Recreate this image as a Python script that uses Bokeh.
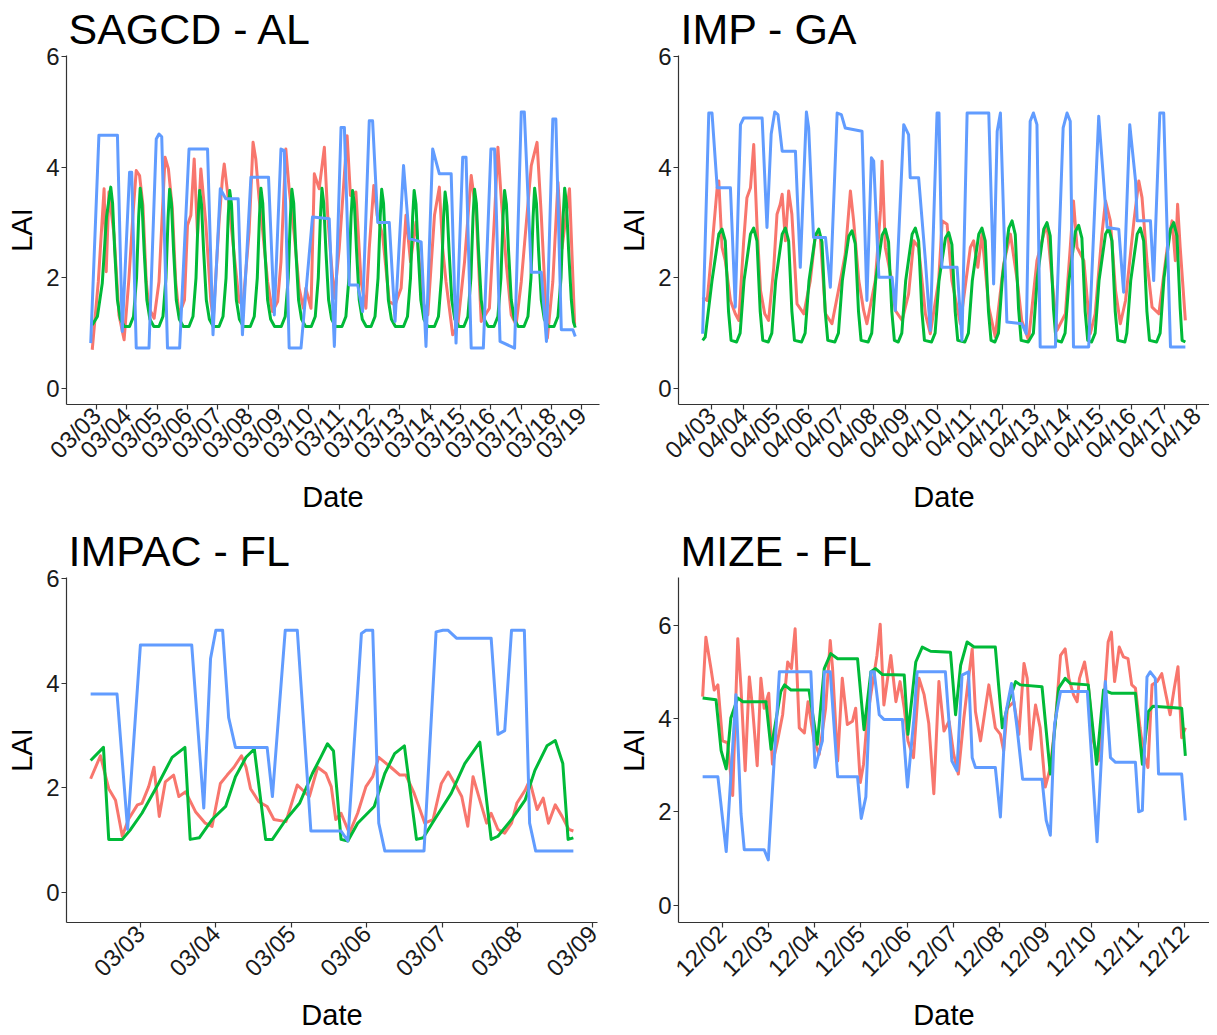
import math
from bokeh.plotting import figure
from bokeh.layouts import gridplot
from bokeh.models import Range1d, FixedTicker
from bokeh.embed import file_html
from bokeh.resources import INLINE

RED = "#F8766D"
GREEN = "#00BA38"
BLUE = "#619CFF"
FONT = "Liberation Sans"

# ---------------- SAGCD - AL ----------------
sagcd_labels = ["03/03", "03/04", "03/05", "03/06", "03/07", "03/08", "03/09", "03/10", "03/11",
                "03/12", "03/13", "03/14", "03/15", "03/16", "03/17", "03/18", "03/19"]
# (years since first tick, LAI)
sagcd_red = [(-0.14,0.7),(0.06,1.93),(0.25,3.61),(0.32,2.11),(0.41,3.55),(0.58,2.77),(0.74,1.33),(0.91,0.88),
             (1.07,1.99),(1.2,3.13),(1.31,3.94),(1.42,3.85),(1.53,3.31),(1.64,1.93),(1.73,1.45),(1.9,1.27),
             (2.06,1.93),(2.26,4.18),(2.37,3.97),(2.5,3.25),(2.61,1.93),(2.72,1.33),(2.9,1.6),(3.0,2.95),
             (3.11,3.13),(3.22,4.15),(3.33,2.77),(3.44,3.97),(3.6,3.01),(3.77,1.57),(3.85,1.27),(4.04,3.01),
             (4.15,3.79),(4.21,4.06),(4.37,3.31),(4.54,2.41),(4.7,1.57),(4.83,1.51),(5.03,2.83),(5.16,4.45),
             (5.25,4.15),(5.36,3.43),(5.47,2.89),(5.64,1.93),(5.8,1.39),(5.97,1.57),(6.08,2.29),(6.24,4.33),
             (6.35,3.61),(6.52,2.77),(6.68,1.81),(6.82,1.45),(6.9,1.81),(7.07,1.45),(7.18,3.88),(7.34,3.61),
             (7.51,4.36),(7.62,3.13),(7.72,2.4),(7.84,1.63),(8.0,2.53),(8.26,4.57),(8.37,3.49),(8.55,3.55),
             (8.72,1.93),(8.88,1.45),(8.99,2.53),(9.14,3.67),(9.25,3.13),(9.43,2.77),(9.65,1.57),(9.84,1.51),
             (10.04,1.81),(10.2,3.13),(10.35,2.29),(10.53,3.01),(10.75,1.57),(10.92,1.33),(11.14,3.13),
             (11.3,3.64),(11.41,2.53),(11.52,1.93),(11.74,0.97),(11.91,1.15),(12.13,2.29),(12.35,3.85),
             (12.52,3.13),(12.68,1.21),(12.95,1.45),(13.12,3.13),(13.23,4.36),(13.34,3.43),(13.5,2.29),
             (13.67,1.33),(13.83,1.15),(14.0,1.93),(14.33,4.03),(14.52,4.45),(14.66,3.13),(14.86,0.91),
             (15.04,1.93),(15.21,3.73),(15.34,2.53),(15.48,3.13),(15.59,3.61),(15.76,1.15)]
sagcd_green = [(-0.14,1.15),(0.03,1.3),(0.19,1.9),(0.33,3.1),(0.47,3.64),(0.53,3.35),(0.6,2.5),(0.69,1.6),(0.79,1.25),(0.92,1.12),
               (1.09,1.12),(1.22,1.3),(1.32,2.0),(1.39,3.1),(1.44,3.62),(1.5,3.35),(1.57,2.5),(1.66,1.6),(1.76,1.25),(1.89,1.12),
               (2.06,1.12),(2.19,1.3),(2.29,2.0),(2.36,3.1),(2.41,3.6),(2.47,3.35),(2.54,2.5),(2.63,1.6),(2.73,1.25),(2.86,1.12),
               (3.05,1.12),(3.18,1.3),(3.28,2.0),(3.35,3.1),(3.4,3.58),(3.46,3.33),(3.53,2.5),(3.62,1.6),(3.72,1.25),(3.85,1.12),
               (4.04,1.12),(4.17,1.3),(4.27,2.0),(4.34,3.1),(4.39,3.58),(4.45,3.33),(4.52,2.5),(4.61,1.6),(4.71,1.25),(4.84,1.12),
               (5.07,1.12),(5.2,1.3),(5.3,2.0),(5.37,3.1),(5.42,3.62),(5.48,3.35),(5.55,2.5),(5.64,1.6),(5.74,1.25),(5.87,1.12),
               (6.09,1.12),(6.22,1.3),(6.32,2.0),(6.39,3.1),(6.44,3.6),(6.5,3.35),(6.57,2.5),(6.66,1.6),(6.76,1.25),(6.89,1.12),
               (7.08,1.12),(7.21,1.3),(7.31,2.0),(7.38,3.1),(7.43,3.62),(7.49,3.35),(7.56,2.5),(7.65,1.6),(7.75,1.25),(7.88,1.12),
               (8.09,1.12),(8.22,1.3),(8.32,2.0),(8.39,3.1),(8.44,3.58),(8.5,3.33),(8.57,2.5),(8.66,1.6),(8.76,1.25),(8.89,1.12),
               (9.05,1.12),(9.18,1.3),(9.28,2.0),(9.35,3.1),(9.4,3.6),(9.46,3.35),(9.53,2.5),(9.62,1.6),(9.72,1.25),(9.85,1.12),
               (10.12,1.12),(10.25,1.3),(10.35,2.0),(10.42,3.1),(10.47,3.58),(10.53,3.33),(10.6,2.5),(10.69,1.6),(10.79,1.25),(10.92,1.12),
               (11.14,1.12),(11.27,1.3),(11.37,2.0),(11.44,3.1),(11.49,3.55),(11.55,3.3),(11.62,2.5),(11.71,1.6),(11.81,1.25),(11.94,1.12),
               (12.11,1.12),(12.24,1.3),(12.34,2.0),(12.41,3.1),(12.46,3.6),(12.52,3.35),(12.59,2.5),(12.68,1.6),(12.78,1.25),(12.91,1.12),
               (13.1,1.12),(13.23,1.3),(13.33,2.0),(13.4,3.1),(13.45,3.58),(13.51,3.33),(13.58,2.5),(13.67,1.6),(13.77,1.25),(13.9,1.12),
               (14.09,1.12),(14.22,1.3),(14.32,2.0),(14.39,3.1),(14.44,3.62),(14.5,3.35),(14.57,2.5),(14.66,1.6),(14.76,1.25),(14.89,1.12),
               (15.08,1.12),(15.21,1.3),(15.31,2.0),(15.38,3.1),(15.43,3.62),(15.49,3.35),(15.56,2.5),(15.65,1.6),(15.72,1.2),(15.78,1.1)]
sagcd_blue = [(-0.19,0.82),(0.08,4.58),(0.69,4.58),(0.85,1.03),(1.09,3.91),(1.16,3.91),(1.31,0.73),(1.73,0.73),
              (1.97,4.51),(2.06,4.6),(2.15,4.55),(2.34,0.73),(2.74,0.73),(3.05,4.33),(3.66,4.33),(3.84,0.97),
              (4.08,3.61),(4.26,3.43),(4.67,3.43),(4.81,0.97),(5.09,3.82),(5.67,3.82),(5.86,1.33),(6.08,4.33),
              (6.19,4.3),(6.35,0.73),(6.74,0.73),(7.12,3.1),(7.67,3.07),(7.84,0.76),(8.06,4.72),(8.17,4.72),
              (8.33,1.87),(8.61,1.87),(8.77,1.39),(8.99,4.84),(9.1,4.84),(9.27,3.0),(9.65,3.0),(9.84,1.21),
              (10.12,4.03),(10.31,2.71),(10.7,2.65),(10.86,0.76),(11.08,4.33),(11.3,3.88),(11.69,3.88),(11.85,0.82),
              (12.07,4.18),(12.18,4.18),(12.35,0.73),(12.75,0.73),(13.0,4.33),(13.12,4.33),(13.3,0.85),(13.78,0.73),
              (14.0,5.0),(14.1,5.0),(14.33,2.1),(14.66,2.1),(14.83,0.85),(15.04,4.87),(15.14,4.87),(15.32,1.06),
              (15.7,1.06),(15.78,0.94)]

# ---------------- IMP - GA ----------------
imp_labels = ["04/03", "04/04", "04/05", "04/06", "04/07", "04/08", "04/09", "04/10",
              "04/11", "04/12", "04/13", "04/14", "04/15", "04/16", "04/17", "04/18"]
imp_red = [(-0.27,1.65),(-0.13,1.59),(0.02,2.55),(0.18,3.63),(0.23,3.75),(0.33,2.55),(0.43,2.31),(0.59,1.59),
           (0.74,1.35),(0.85,1.23),(1.0,2.67),(1.1,3.45),(1.21,3.63),(1.31,4.41),(1.41,2.97),(1.52,1.77),
           (1.65,1.35),(1.77,1.23),(1.93,2.19),(2.03,3.15),(2.13,3.33),(2.19,3.51),(2.29,2.67),(2.39,3.57),
           (2.49,3.15),(2.65,1.53),(2.86,1.35),(3.06,1.95),(3.22,2.79),(3.37,2.73),(3.53,1.35),(3.73,1.17),
           (3.99,1.95),(4.14,2.43),(4.3,3.57),(4.4,3.03),(4.56,1.95),(4.71,1.41),(4.81,1.17),(5.07,1.95),
           (5.23,3.21),(5.28,4.11),(5.38,2.55),(5.54,2.07),(5.69,1.41),(5.9,1.23),(6.1,1.71),(6.26,2.67),
           (6.41,2.55),(6.62,1.35),(6.77,0.99),(7.03,1.95),(7.14,3.03),(7.29,2.97),(7.44,1.95),(7.7,1.17),
           (8.01,2.55),(8.11,2.67),(8.24,2.19),(8.37,2.79),(8.58,1.47),(8.78,0.93),(9.04,2.25),(9.25,2.79),
           (9.46,1.95),(9.6,1.23),(9.81,0.87),(10.07,2.31),(10.28,2.79),(10.38,2.97),(10.54,1.95),(10.69,1.05),
           (10.95,1.35),(11.1,2.55),(11.2,3.39),(11.31,2.55),(11.52,2.31),(11.72,0.99),(11.87,1.35),(12.08,2.79),
           (12.19,3.39),(12.34,3.03),(12.5,1.77),(12.65,1.17),(12.81,1.59),(13.07,3.03),(13.22,3.75),(13.32,3.45),
           (13.48,2.25),(13.63,1.47),(13.84,1.35),(14.1,2.55),(14.25,3.03),(14.35,2.31),(14.42,3.33),(14.5,2.55),
           (14.66,1.23)]
imp_green = [(-0.27,0.87),(-0.19,0.93),(0.02,1.95),(0.23,2.79),(0.33,2.88),(0.43,2.67),(0.53,1.4),(0.61,0.87),(0.78,0.84),
             (0.89,1.0),(1.01,1.95),(1.21,2.79),(1.31,2.9),(1.41,2.67),(1.51,1.4),(1.59,0.87),(1.76,0.84),
             (1.87,1.0),(1.99,1.95),(2.19,2.79),(2.29,2.9),(2.39,2.67),(2.49,1.4),(2.57,0.87),(2.79,0.84),
             (2.9,1.0),(3.02,1.95),(3.22,2.77),(3.32,2.88),(3.42,2.65),(3.52,1.4),(3.6,0.87),(3.82,0.84),
             (3.93,1.0),(4.05,1.95),(4.25,2.75),(4.35,2.85),(4.45,2.62),(4.55,1.4),(4.63,0.87),(4.85,0.84),
             (4.96,1.0),(5.08,1.95),(5.28,2.77),(5.38,2.88),(5.48,2.65),(5.58,1.4),(5.66,0.87),(5.78,0.84),
             (5.89,1.0),(6.01,1.95),(6.21,2.79),(6.31,2.9),(6.41,2.67),(6.51,1.4),(6.59,0.87),(6.81,0.84),
             (6.92,1.0),(7.04,1.95),(7.24,2.72),(7.34,2.82),(7.44,2.6),(7.54,1.4),(7.62,0.87),(7.84,0.84),
             (7.95,1.0),(8.07,1.95),(8.27,2.79),(8.37,2.9),(8.47,2.67),(8.57,1.4),(8.65,0.87),(8.77,0.84),
             (8.88,1.0),(9.0,2.0),(9.2,2.9),(9.3,3.03),(9.4,2.78),(9.5,1.45),(9.58,0.87),(9.8,0.84),
             (9.96,1.0),(10.08,2.0),(10.28,2.88),(10.38,3.0),(10.48,2.76),(10.58,1.45),(10.66,0.87),(10.83,0.84),
             (10.94,1.0),(11.06,1.95),(11.26,2.84),(11.36,2.95),(11.46,2.72),(11.56,1.4),(11.64,0.87),(11.76,0.84),
             (11.87,1.0),(11.99,1.95),(12.19,2.79),(12.29,2.9),(12.39,2.67),(12.49,1.4),(12.57,0.87),(12.79,0.84),
             (12.85,1.0),(12.97,1.95),(13.17,2.79),(13.27,2.9),(13.37,2.67),(13.47,1.4),(13.55,0.87),(13.77,0.84),
             (13.88,1.0),(14.0,2.0),(14.2,2.88),(14.3,3.0),(14.4,2.76),(14.5,1.45),(14.56,0.87),(14.66,0.84)]
imp_blue = [(-0.27,0.99),(-0.08,4.98),(0.02,4.98),(0.18,3.63),(0.59,3.63),(0.74,1.47),(0.9,4.77),(1.0,4.89),
            (1.57,4.89),(1.72,2.91),(1.85,4.6),(1.96,5.0),(2.06,4.95),(2.19,4.29),(2.6,4.29),(2.75,2.19),
            (2.94,5.0),(3.01,4.71),(3.16,2.73),(3.53,2.73),(3.68,1.83),(3.89,4.98),(4.02,4.95),(4.14,4.71),
            (4.66,4.65),(4.81,1.59),(4.95,4.17),(5.02,4.11),(5.18,2.01),(5.59,2.01),(5.69,1.41),(5.95,4.77),
            (6.1,4.59),(6.15,3.81),(6.41,3.81),(6.62,2.31),(6.77,1.05),(6.98,4.98),(7.04,4.98),(7.13,2.19),
            (7.6,2.19),(7.75,0.87),(7.91,4.98),(8.58,4.98),(8.73,1.89),(8.84,4.65),(8.94,4.98),(9.14,1.2),
            (9.6,1.17),(9.74,0.99),(9.86,4.83),(9.96,4.98),(10.07,4.77),(10.17,0.75),(10.64,0.75),(10.88,4.71),
            (11.0,4.98),(11.1,4.83),(11.2,0.75),(11.67,0.75),(11.98,4.92),(12.24,2.91),(12.6,2.88),(12.75,1.74),
            (12.94,4.77),(13.12,3.75),(13.17,3.03),(13.58,3.03),(13.68,1.95),(13.87,4.98),(13.99,4.98),(14.2,0.75),
            (14.66,0.75)]

# ---------------- IMPAC - FL ----------------
impac_labels = ["03/03", "03/04", "03/05", "03/06", "03/07", "03/08", "03/09"]
impac_red = [(-0.66,2.17),(-0.53,2.61),(-0.42,1.98),(-0.33,1.76),(-0.24,1.07),(-0.16,1.39),(-0.04,1.67),(0.02,1.7),
             (0.11,2.02),(0.18,2.39),(0.25,1.45),(0.33,2.11),(0.44,2.24),(0.51,1.83),(0.6,1.92),(0.73,1.54),
             (0.86,1.32),(0.95,1.26),(1.06,2.08),(1.15,2.24),(1.24,2.39),(1.34,2.61),(1.4,2.39),(1.46,1.98),
             (1.57,1.73),(1.68,1.64),(1.77,1.39),(1.93,1.35),(2.08,2.05),(2.24,1.83),(2.35,2.39),(2.46,2.27),
             (2.53,2.02),(2.59,1.39),(2.66,1.51),(2.77,1.13),(2.88,1.51),(2.99,2.02),(3.08,2.21),(3.16,2.58),
             (3.32,2.39),(3.44,2.24),(3.52,2.24),(3.63,1.89),(3.77,1.32),(3.88,1.39),(3.99,2.08),(4.08,2.3),
             (4.19,2.02),(4.26,1.83),(4.34,1.26),(4.41,2.21),(4.5,1.76),(4.59,1.32),(4.65,1.51),(4.74,1.2),
             (4.83,1.13),(4.92,1.32),(4.99,1.7),(5.1,1.95),(5.16,2.14),(5.26,1.58),(5.34,1.8),(5.41,1.32),
             (5.5,1.67),(5.59,1.45),(5.68,1.2),(5.74,1.17)]
impac_green = [(-0.66,2.52),(-0.49,2.77),(-0.42,1.01),(-0.24,1.01),(-0.13,1.2),(0.02,1.51),(0.24,2.08),(0.42,2.58),
               (0.59,2.77),(0.66,1.01),(0.78,1.04),(0.95,1.39),(1.13,1.64),(1.26,2.21),(1.4,2.58),(1.51,2.74),
               (1.66,1.01),(1.75,1.01),(1.93,1.39),(2.11,1.7),(2.28,2.27),(2.39,2.58),(2.48,2.84),(2.56,2.7),
               (2.66,1.01),(2.75,0.98),(2.88,1.32),(3.1,1.64),(3.24,2.27),(3.37,2.65),(3.5,2.8),(3.66,1.01),
               (3.75,1.04),(3.9,1.39),(4.12,1.89),(4.3,2.46),(4.5,2.87),(4.65,1.01),(4.74,1.07),(4.92,1.39),
               (5.1,1.76),(5.23,2.33),(5.39,2.8),(5.5,2.9),(5.6,2.46),(5.67,1.01),(5.74,1.04)]
impac_blue = [(-0.66,3.79),(-0.31,3.79),(-0.17,1.2),(0.0,4.73),(0.68,4.73),(0.84,1.61),(0.93,4.47),(1.0,5.01),
              (1.09,5.01),(1.17,3.34),(1.26,2.77),(1.68,2.77),(1.75,1.83),(1.92,5.01),(2.08,5.01),(2.26,1.17),
              (2.66,1.17),(2.75,0.98),(2.93,4.95),(2.99,5.01),(3.08,5.01),(3.16,1.32),(3.24,0.79),(3.76,0.79),
              (3.92,4.98),(4.01,5.01),(4.08,5.01),(4.19,4.86),(4.65,4.86),(4.74,3.02),(4.83,3.09),(4.92,5.01),
              (5.09,5.01),(5.16,1.32),(5.24,0.79),(5.74,0.79)]

# ---------------- MIZE - FL ----------------
mize_labels = ["12/02", "12/03", "12/04", "12/05", "12/06", "12/07", "12/08", "12/09", "12/10", "12/11", "12/12"]
mize_red = [(-0.42,4.47),(-0.35,5.74),(-0.24,5.07),(-0.17,4.61),(-0.09,4.72),(0.01,3.52),(0.12,3.48),(0.23,2.35),
            (0.34,5.71),(0.41,4.65),(0.5,2.88),(0.59,4.89),(0.66,4.22),(0.76,2.99),(0.84,4.86),(0.91,4.22),
            (1.01,4.54),(1.09,3.02),(1.2,3.52),(1.31,4.08),(1.42,5.21),(1.5,5.07),(1.58,5.92),(1.67,3.8),
            (1.78,3.69),(1.86,4.36),(1.99,3.52),(2.1,3.23),(2.24,4.22),(2.34,5.67),(2.39,5.07),(2.5,3.09),
            (2.6,4.86),(2.71,3.87),(2.82,3.94),(2.89,4.22),(2.99,2.63),(3.06,3.02),(3.14,4.01),(3.25,4.72),
            (3.35,5.35),(3.42,6.02),(3.5,4.29),(3.65,5.35),(3.76,4.36),(3.85,4.79),(3.94,4.22),(4.02,3.52),
            (4.14,3.16),(4.26,4.86),(4.37,4.51),(4.47,3.9),(4.58,2.39),(4.69,4.79),(4.8,3.73),(4.91,3.94),
            (5.01,3.23),(5.11,2.81),(5.23,4.01),(5.33,4.86),(5.41,5.49),(5.48,4.15),(5.59,3.52),(5.77,4.72),
            (5.91,3.8),(6.02,3.66),(6.09,3.31),(6.17,4.22),(6.31,4.36),(6.42,3.66),(6.53,5.18),(6.6,4.86),
            (6.67,3.34),(6.78,4.29),(6.88,3.8),(6.99,2.53),(7.1,2.95),(7.21,3.94),(7.32,5.35),(7.42,5.49),
            (7.5,4.86),(7.6,4.51),(7.68,4.36),(7.73,4.86),(7.84,5.21),(7.92,4.72),(8.03,3.52),(8.14,3.09),
            (8.26,4.36),(8.35,5.64),(8.42,5.85),(8.49,4.79),(8.59,5.53),(8.68,5.32),(8.78,5.28),(8.86,4.72),
            (8.94,4.65),(9.04,3.8),(9.12,3.23),(9.21,2.95),(9.3,4.72),(9.41,4.79),(9.51,4.96),(9.6,4.51),
            (9.69,4.08),(9.78,4.65),(9.86,5.11),(9.94,3.59),(10.02,3.8)]
mize_green = [(-0.42,4.44),(-0.13,4.4),(-0.02,3.31),(0.09,2.92),(0.19,4.01),(0.34,4.44),(0.45,4.36),(0.95,4.36),
              (1.06,3.34),(1.27,4.58),(1.35,4.72),(1.49,4.61),(1.88,4.61),(2.06,3.45),(2.21,5.07),(2.35,5.39),
              (2.5,5.28),(2.93,5.28),(3.07,3.76),(3.22,5.0),(3.32,5.07),(3.47,4.94),(3.94,4.93),(4.02,3.66),
              (4.19,5.21),(4.33,5.53),(4.51,5.44),(4.94,5.42),(5.05,4.08),(5.16,5.14),(5.3,5.64),(5.45,5.53),
              (5.91,5.53),(6.06,3.8),(6.2,4.36),(6.35,4.79),(6.45,4.72),(6.92,4.68),(7.1,2.81),(7.28,4.65),
              (7.42,4.86),(7.53,4.75),(7.92,4.72),(8.1,3.02),(8.25,4.61),(8.43,4.54),(8.94,4.54),(9.09,3.02),
              (9.22,4.15),(9.32,4.26),(9.94,4.22),(10.02,3.2)]
mize_blue = [(-0.42,2.75),(-0.09,2.75),(0.09,1.15),(0.3,4.51),(0.41,1.96),(0.48,1.19),(0.91,1.19),(1.0,0.97),
             (1.24,5.0),(1.92,5.0),(2.01,2.95),(2.17,3.52),(2.21,5.0),(2.34,5.0),(2.5,2.75),(2.93,2.75),
             (3.01,1.86),(3.11,2.32),(3.22,5.0),(3.29,5.0),(3.4,4.08),(3.5,3.98),(3.9,3.98),(4.01,2.53),
             (4.15,4.01),(4.22,5.0),(4.83,5.0),(4.97,3.09),(5.08,2.88),(5.19,4.93),(5.33,5.0),(5.41,3.16),
             (5.48,2.95),(5.91,2.95),(6.02,1.89),(6.13,4.08),(6.26,4.75),(6.38,3.8),(6.5,2.7),(6.92,2.7),
             (7.01,1.82),(7.1,1.5),(7.19,3.87),(7.32,4.58),(7.9,4.58),(8.11,1.36),(8.29,4.79),(8.4,3.16),
             (8.51,3.06),(8.94,3.06),(9.01,2.0),(9.09,2.03),(9.19,4.89),(9.26,5.0),(9.37,4.86),(9.44,2.81),
             (9.94,2.81),(10.02,1.82)]

y_tick_values = [0, 2, 4, 6]


def panel(title, labels, red, green, blue, y_range, frame_w, frame_h, bl, br, bt, bb, xlab_standoff):
    all_x = [pt[0] for s in (red, green, blue) for pt in s]
    lo, hi = min(all_x), max(all_x)
    pad = 0.05 * (hi - lo)
    p = figure(frame_width=frame_w, frame_height=frame_h,
               x_range=Range1d(lo - pad, hi + pad), y_range=Range1d(*y_range),
               output_backend="svg", toolbar_location=None,
               min_border_left=bl, min_border_right=br, min_border_top=bt, min_border_bottom=bb,
               x_axis_label="Date", y_axis_label="LAI")
    for series, col in ((red, RED), (green, GREEN), (blue, BLUE)):
        p.line([q[0] for q in series], [q[1] for q in series], line_color=col, line_width=3,
               line_join="round")
    p.title.text = title
    p.title.text_font = FONT
    p.title.text_font_size = "43px"
    p.title.text_font_style = "normal"
    p.title.text_color = "#000000"
    p.title.align = "left"
    p.title.offset = 2
    p.title.standoff = 5
    p.xaxis.ticker = FixedTicker(ticks=list(range(len(labels))))
    p.xaxis.major_label_overrides = {i: lab for i, lab in enumerate(labels)}
    p.xaxis.major_label_orientation = math.pi / 4
    p.yaxis.ticker = FixedTicker(ticks=y_tick_values)
    for ax in (p.xaxis, p.yaxis):
        ax.axis_line_color = "#333333"
        ax.axis_line_width = 1.2
        ax.major_tick_line_color = "#333333"
        ax.major_tick_line_width = 1.2
        ax.major_tick_out = 5
        ax.major_tick_in = 0
        ax.minor_tick_out = 0
        ax.minor_tick_in = 0
        ax.major_label_text_font = FONT
        ax.major_label_text_font_size = "24px"
        ax.major_label_text_color = "#1a1a1a"
        ax.major_label_standoff = 2
        ax.axis_label_text_font = FONT
        ax.axis_label_text_font_size = "29px"
        ax.axis_label_text_font_style = "normal"
        ax.axis_label_text_color = "#000000"
    p.xaxis.axis_label_standoff = xlab_standoff
    p.yaxis.axis_label_standoff = 5
    p.xgrid.visible = False
    p.ygrid.visible = False
    p.outline_line_color = None
    return p


p1 = panel("SAGCD - AL", sagcd_labels, sagcd_red, sagcd_green, sagcd_blue, (-0.29, 6.02), 533, 349, 66, 11, 54, 118, 5)
p2 = panel("IMP - GA", imp_labels, imp_red, imp_green, imp_blue, (-0.29, 6.02), 531, 349, 68, 0, 54, 118, 5)
p3 = panel("IMPAC - FL", impac_labels, impac_red, impac_green, impac_blue, (-0.58, 6.02), 531, 345, 66, 13, 54, 108, 5)
p4 = panel("MIZE - FL", mize_labels, mize_red, mize_green, mize_blue, (-0.37, 7.02), 531, 345, 68, 0, 54, 108, 5)

grid = gridplot([[p1, p2], [p3, p4]], toolbar_location=None)

open("out.html", "w").write(file_html(grid, INLINE))
